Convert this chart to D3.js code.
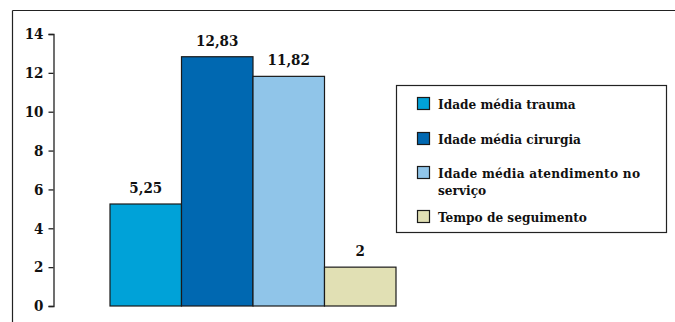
<!DOCTYPE html>
<html>
<head>
<meta charset="utf-8">
<script src="https://cdn.jsdelivr.net/npm/d3@7/dist/d3.min.js"></script>
<style>
  html, body { margin: 0; padding: 0; background: #fff; }
  svg { display: block; }
</style>
</head>
<body>
<svg id="chart" width="675" height="322"></svg>
<script>
// Series (one bar each) and their values
const seriesNames = [
  "Idade média trauma",
  "Idade média cirurgia",
  "Idade média atendimento no serviço",
  "Tempo de seguimento"
];
const seriesValues = [5.25, 12.83, 11.82, 2];
const valueLabels = ["5,25", "12,83", "11,82", "2"];
const seriesColors = ["#00a2d8", "#0068b1", "#90c5e9", "#e1e0b4"];
const yTicks = [0, 2, 4, 6, 8, 10, 12, 14];
// Legend lines (the long entry wraps onto two lines)
const legendLines = [
  ["Idade média trauma"],
  ["Idade média cirurgia"],
  ["Idade média atendimento no", "serviço"],
  ["Tempo de seguimento"]
];

const FONT = "'DejaVu Serif Condensed', 'DejaVu Serif', serif";
const svg = d3.select("#chart");

// Outer frame: top and left edges
svg.append("line").attr("x1", 12.5).attr("x2", 675).attr("y1", 10.5).attr("y2", 10.5)
  .attr("stroke", "#222").attr("stroke-width", 1.2);
svg.append("line").attr("x1", 12.5).attr("x2", 12.5).attr("y1", 10.5).attr("y2", 322)
  .attr("stroke", "#222").attr("stroke-width", 1.2);

const y = d3.scaleLinear().domain([0, 14]).range([306, 34]);
const x = d3.scaleBand().domain(seriesNames).range([110, 396]).padding(0);

// Y axis
const yAxis = svg.append("g").attr("transform", "translate(53.5,0)")
  .call(d3.axisLeft(y).tickValues(yTicks).tickSize(5).tickPadding(5).tickFormat(d3.format("d")));
yAxis.attr("font-family", FONT).attr("font-size", 15).attr("font-weight", "bold");
yAxis.select(".domain").attr("stroke", "#222").attr("stroke-width", 1.3);
yAxis.selectAll(".tick line").attr("stroke", "#222").attr("stroke-width", 1.3);
yAxis.selectAll(".tick text").attr("fill", "#111");

// Bars
svg.append("g").selectAll("rect").data(seriesValues).join("rect")
  .attr("x", (d, i) => x(seriesNames[i]))
  .attr("y", d => y(d))
  .attr("width", x.bandwidth())
  .attr("height", d => y(0) - y(d))
  .attr("fill", (d, i) => seriesColors[i])
  .attr("stroke", "#1a1a1a").attr("stroke-width", 1.2);

// Value labels
svg.append("g").attr("font-family", FONT).attr("font-weight", "bold")
  .selectAll("text").data(seriesValues).join("text")
  .attr("x", (d, i) => x(seriesNames[i]) + x.bandwidth() / 2)
  .attr("y", d => y(d) - 11)
  .attr("text-anchor", "middle")
  .attr("font-size", 15).attr("fill", "#111")
  .text((d, i) => valueLabels[i]);

// Legend
const legend = svg.append("g").attr("font-family", FONT).attr("font-weight", "bold");
legend.append("rect").attr("x", 396.5).attr("y", 85.5).attr("width", 270).attr("height", 147)
  .attr("fill", "#fff").attr("stroke", "#222").attr("stroke-width", 1.2);
const rowY = [104, 139, 173, 217];
legendLines.forEach((lines, i) => {
  legend.append("rect").attr("x", 417.5).attr("y", rowY[i] - 6.5).attr("width", 12).attr("height", 12)
    .attr("fill", seriesColors[i]).attr("stroke", "#1a1a1a").attr("stroke-width", 1.2);
  lines.forEach((ln, j) => {
    const t = legend.append("text").attr("x", 438).attr("y", rowY[i] + 5 + j * 17)
      .attr("font-size", 13.5).attr("fill", "#111").text(ln);
    if (i === 2 && j === 0) t.attr("textLength", 202).attr("lengthAdjust", "spacing");
  });
});
</script>
</body>
</html>
